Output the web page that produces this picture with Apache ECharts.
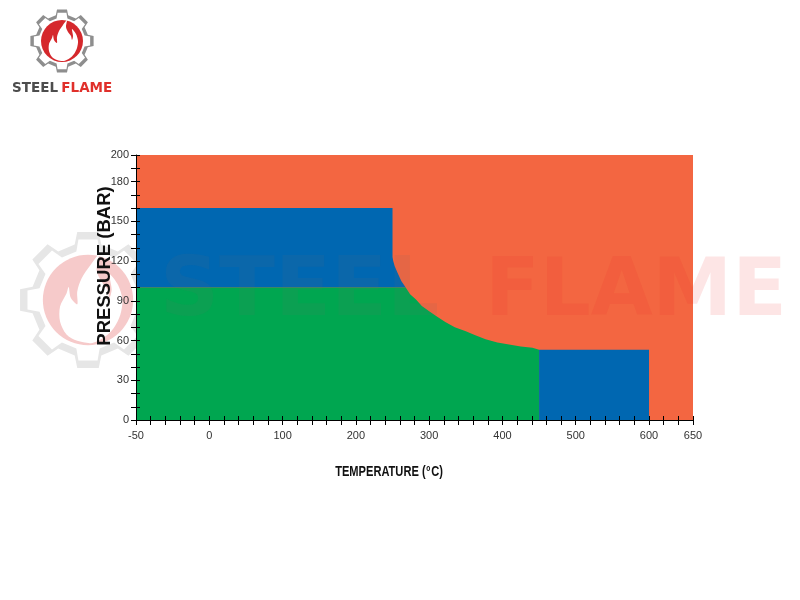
<!DOCTYPE html>
<html>
<head>
<meta charset="utf-8">
<script src="https://cdn.jsdelivr.net/npm/echarts@6/dist/echarts.min.js"></script>
<style>
  html, body { margin: 0; background: #fff; }
  #main { width: 800px; height: 600px; }
</style>
</head>
<body>
<div id="main"></div>
<script>
// tick labels (the printed temperature axis is not to scale, so labels sit on even steps)
var xLabels = [-50, 0, 100, 200, 300, 400, 500, 600, 650];
var xLabelPos = [0, 1, 2, 3, 4, 5, 6, 7, 7.6];
var yLabels = [0, 30, 60, 90, 120, 150, 180, 200];

// regions: temperature (C) / pressure (bar)
var orangeT = [-50, 650, 650, -50];
var orangeP = [0, 0, 200, 200];
var blueTopT = [-50, 250, 250, 251, 253, 257, 262, 268, -50];
var blueTopP = [160, 160, 123, 120, 116, 111, 105, 100, 100];
var greenT = [-50, 268, 274, 282, 290, 300, 311, 322, 335, 350, 363, 377, 393, 409, 425, 441, 450, 450, -50];
var greenP = [100, 100, 95, 91, 86, 82, 78, 74, 70, 67, 64, 61, 58.5, 57, 55.5, 54.5, 53, 0, 0];
var blueLowT = [450, 600, 600, 450];
var blueLowP = [0, 0, 53, 53];

var ORANGE = '#F36641', BLUE = '#0067B1', GREEN = '#00A650';
var FONT = "'Liberation Sans', Arial, sans-serif";

// temperature -> position on the drawn axis
function tPos(t) {
  for (var i = 0; i < xLabels.length - 1; i++) {
    if (t <= xLabels[i + 1]) {
      var f = (t - xLabels[i]) / (xLabels[i + 1] - xLabels[i]);
      return xLabelPos[i] + f * (xLabelPos[i + 1] - xLabelPos[i]);
    }
  }
  return xLabelPos[xLabelPos.length - 1];
}

function region(name, ts, ps, color) {
  return {
    name: name,
    type: 'custom',
    silent: true,
    z: 2,
    data: [0],
    renderItem: function (params, api) {
      var pts = ts.map(function (t, i) { return api.coord([tPos(t), ps[i]]); });
      return { type: 'polygon', shape: { points: pts }, style: { fill: color } };
    }
  };
}

function gearPoints(R, r, n) {
  var out = [];
  for (var i = 0; i < n; i++) {
    var a = i * 2 * Math.PI / n - Math.PI / 2;
    var w = Math.PI / n;
    [[r, a - w * 0.6], [R, a - w * 0.4], [R, a + w * 0.4], [r, a + w * 0.6]].forEach(function (p) {
      out.push([p[0] * Math.cos(p[1]), p[0] * Math.sin(p[1])]);
    });
  }
  return out;
}

var flamePts = [[-5, 19], [-10, 16], [-13, 10], [-13, 3], [-10, -3], [-9, -6], [-8, -1], [-5, 2],
  [-5, -4], [-3, -10], [1, -16], [5, -21], [4, -14], [6, -9], [9, -5], [10, -1], [11, -5],
  [10, -12], [14, -7], [16, 0], [15, 7], [12, 13], [8, 17], [2, 20]];

// gear + red disc + white flame; colours vary between header logo and watermark
function logo(cx, cy, s, c, z) {
  return {
    type: 'group', x: cx, y: cy, scaleX: s, scaleY: s,
    children: [
      { type: 'polygon', z: z, shape: { points: gearPoints(32, 26.5, 8) }, style: { fill: c.gear } },
      { type: 'polygon', z: z, shape: { points: gearPoints(28.5, 23.2, 8) }, style: { fill: '#fff' } },
      { type: 'circle', z: z, shape: { cx: 0, cy: 0, r: 21 }, style: { fill: c.disc } },
      { type: 'polygon', z: z, shape: { points: flamePts, smooth: 0.3 }, style: { fill: '#fff' } }
    ]
  };
}

var chart = echarts.init(document.getElementById('main'));

var xBase = {
  type: 'value', min: 0, max: 7.6, interval: 0.2, z: 10,
  splitLine: { show: false }
};
var yBase = {
  type: 'value', min: 0, max: 200, interval: 10, z: 10,
  splitLine: { show: false }
};

chart.setOption({
  animation: false,
  grid: { left: 136, top: 155, width: 557, height: 265, containLabel: false },
  xAxis: [
    Object.assign({}, xBase, {
      position: 'bottom',
      axisLine: { onZero: false, lineStyle: { color: '#000', width: 1 } },
      axisTick: { length: 5, lineStyle: { color: '#000' } },
      axisLabel: {
        margin: 10, color: '#333', fontSize: 11, fontFamily: FONT,
        formatter: function (v) {
          for (var i = 0; i < xLabelPos.length; i++) {
            if (Math.abs(v - xLabelPos[i]) < 1e-6) return String(xLabels[i]);
          }
          return '';
        }
      }
    }),
    Object.assign({}, xBase, {
      position: 'bottom',
      axisLine: { show: false },
      axisTick: { inside: true, length: 4, lineStyle: { color: '#000' } },
      axisLabel: { show: false }
    })
  ],
  yAxis: [
    Object.assign({}, yBase, {
      position: 'left',
      axisLine: { onZero: false, lineStyle: { color: '#000', width: 1 } },
      axisTick: { length: 5, lineStyle: { color: '#000' } },
      axisLabel: {
        margin: 7, color: '#333', fontSize: 11, fontFamily: FONT,
        formatter: function (v) { return yLabels.indexOf(v) >= 0 ? String(v) : ''; }
      }
    }),
    Object.assign({}, yBase, {
      position: 'left',
      axisLine: { show: false },
      axisTick: { inside: true, length: 4, lineStyle: { color: '#000' } },
      axisLabel: { show: false }
    })
  ],
  series: [
    region('orange', orangeT, orangeP, ORANGE),
    region('blue top', blueTopT, blueTopP, BLUE),
    region('green', greenT, greenP, GREEN),
    region('blue low', blueLowT, blueLowP, BLUE)
  ],
  graphic: [
    logo(62, 41, 1, { gear: '#8E8E8E', disc: '#D5282C' }, 10),
    {
      type: 'text', x: 12, y: 88, z: 10,
      style: {
        text: '{a|STEEL} {b|FLAME}', verticalAlign: 'middle',
        rich: {
          a: { fill: '#4D4D4D', font: "bold 13.5px 'DejaVu Sans', sans-serif" },
          b: { fill: '#E0302B', font: "bold 13.5px 'DejaVu Sans', sans-serif" }
        }
      }
    },
    // watermark: logo sits behind the plot, lettering is laid over it
    logo(88, 300, 2.15, { gear: '#E6E6E6', disc: '#F6CACA' }, 0),
    {
      type: 'text', x: 160, y: 294, z: 40, silent: true,
      style: {
        text: 'STEEL', verticalAlign: 'middle',
        fill: '#6E6E6E', opacity: 0.1, font: "bold 82px 'DejaVu Sans', sans-serif"
      }
    },
    {
      type: 'text', x: 485, y: 294, z: 40, silent: true,
      style: {
        text: 'FLAME', verticalAlign: 'middle',
        fill: '#F02828', opacity: 0.12, font: "bold 80px 'DejaVu Sans', sans-serif"
      }
    },
    {
      type: 'text', x: 105, y: 266, rotation: Math.PI / 2, z: 60,
      style: {
        text: 'PRESSURE (BAR)', align: 'center', verticalAlign: 'middle',
        fill: '#111', font: 'bold 18.5px ' + FONT
      }
    },
    {
      type: 'text', x: 389, y: 472, z: 60, scaleX: 0.74,
      style: {
        text: '{t|TEMPERATURE (}{s|o}{t|C)}', align: 'center', verticalAlign: 'middle',
        rich: {
          t: { fill: '#111', font: 'bold 15px ' + FONT },
          s: { fill: '#111', font: 'bold 9px ' + FONT, verticalAlign: 'top', padding: [0, 1, 7, 1] }
        }
      }
    }
  ]
});
</script>
</body>
</html>
